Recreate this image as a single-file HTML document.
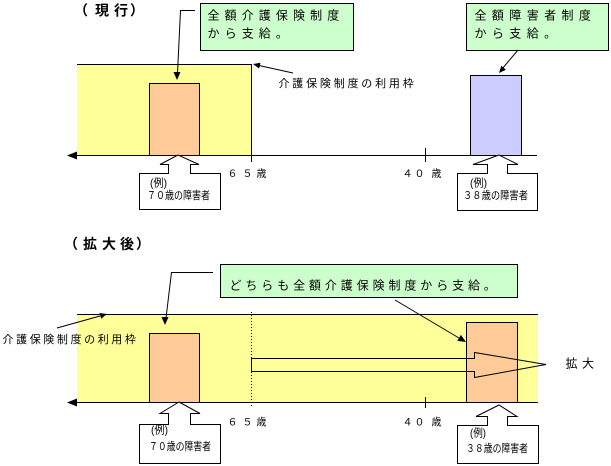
<!DOCTYPE html>
<html><head><meta charset="utf-8"><style>
html,body{margin:0;padding:0;background:#fff;}
svg{display:block;}
text{font-family:"Liberation Sans","Noto Sans CJK JP",sans-serif;fill:#000;}
</style></head><body>
<svg width="611" height="466" viewBox="0 0 611 466" xmlns="http://www.w3.org/2000/svg">
<!-- ===== TOP SECTION ===== -->
<text x="74 95 114 130" y="15.5" font-size="14" font-weight="bold">（現行）</text>

<rect x="77" y="64" width="175" height="91" fill="#ffff99"/>
<g stroke="#000" stroke-width="1" fill="none" shape-rendering="crispEdges">
  <line x1="77" y1="64.5" x2="252" y2="64.5"/>
  <line x1="251.5" y1="64" x2="251.5" y2="162"/>
  <line x1="72" y1="155.5" x2="537" y2="155.5"/>
  <line x1="425.5" y1="148" x2="425.5" y2="162"/>
</g>
<polygon points="67,155.5 77,151.5 77,159.5" fill="#000"/>

<rect x="149.5" y="83.5" width="50" height="72" fill="#ffcc99" stroke="#000" shape-rendering="crispEdges"/>
<rect x="470.5" y="75.5" width="51" height="80" fill="#ccccff" stroke="#000" shape-rendering="crispEdges"/>

<!-- green boxes -->
<rect x="200.5" y="3.5" width="153" height="47" fill="#ccffcc" stroke="#000" shape-rendering="crispEdges"/>
<text x="207.5" y="19.5" font-size="12" letter-spacing="5.1">全額介護保険制度</text>
<text x="207.5" y="37.5" font-size="12" letter-spacing="5.1">から支給。</text>

<rect x="466.5" y="3.5" width="142" height="47" fill="#ccffcc" stroke="#000" shape-rendering="crispEdges"/>
<text x="474.5" y="19.5" font-size="12" letter-spacing="5.4">全額障害者制度</text>
<text x="474.5" y="37.5" font-size="12" letter-spacing="5.4">から支給。</text>

<!-- connectors top -->
<polyline points="195,10.5 180.5,10.5 177.5,73" fill="none" stroke="#000" stroke-width="1"/>
<polygon points="177,80 173.5,72 180.5,72" fill="#000"/>

<line x1="518" y1="50" x2="502" y2="69" stroke="#000" stroke-width="1"/>
<polygon points="499,73 505.9,69.7 501.3,65.8" fill="#000"/>

<line x1="293" y1="73" x2="259" y2="65.5" stroke="#000" stroke-width="1"/>
<polygon points="253,64 260.5,62.7 259.1,68.5" fill="#000"/>
<text x="278.5" y="87" font-size="11" letter-spacing="2.8">介護保険制度の利用枠</text>

<text x="227.5 242.5 256.5" y="177" font-size="10">６５歳</text>
<text x="402.5 414.5 431.5" y="177" font-size="10">４０歳</text>

<!-- callouts top -->
<path d="M178,155 L160,164.5 L168.5,164.5 L168.5,173.5 L139.5,173.5 L139.5,209.5 L220.5,209.5 L220.5,173.5 L190.5,173.5 L190.5,164.5 L199,164.5 Z" fill="#fff" stroke="#000" stroke-width="1"/>
<text x="150" y="186.5" font-size="11" textLength="17" lengthAdjust="spacingAndGlyphs">(例)</text>
<text x="147" y="199" font-size="11" textLength="63" lengthAdjust="spacingAndGlyphs">７０歳の障害者</text>

<path d="M499,155 L473,164.5 L487.5,164.5 L487.5,173.5 L457.5,173.5 L457.5,210.5 L537.5,210.5 L537.5,173.5 L507.5,173.5 L507.5,164.5 L518,164.5 Z" fill="#fff" stroke="#000" stroke-width="1"/>
<text x="470" y="186.5" font-size="11" textLength="17" lengthAdjust="spacingAndGlyphs">(例)</text>
<text x="463" y="199" font-size="11" textLength="65" lengthAdjust="spacingAndGlyphs">３８歳の障害者</text>

<!-- ===== BOTTOM SECTION ===== -->
<text x="64 83 102 120 136" y="249" font-size="14" font-weight="bold">（拡大後）</text>

<rect x="77" y="314" width="461" height="88" fill="#ffff99"/>
<g stroke="#000" stroke-width="1" fill="none" shape-rendering="crispEdges">
  <line x1="77" y1="314.5" x2="538" y2="314.5"/>
  <line x1="72" y1="402.5" x2="538" y2="402.5"/>
  <line x1="425.5" y1="397" x2="425.5" y2="408"/>
</g>
<line x1="251.5" y1="312" x2="251.5" y2="408" stroke="#000" stroke-width="1" stroke-dasharray="1,2" shape-rendering="crispEdges"/>
<polygon points="67,402.5 77,398.5 77,406.5" fill="#000"/>

<rect x="149.5" y="333.5" width="50" height="69" fill="#ffcc99" stroke="#000" shape-rendering="crispEdges"/>
<rect x="466.5" y="322.5" width="51" height="80" fill="#ffcc99" stroke="#000" shape-rendering="crispEdges"/>

<path d="M251.5,358.5 L474.5,358.5 L474.5,352.5 L546,364.5 L474.5,377.5 L474.5,371.5 L251.5,371.5 Z" fill="none" stroke="#000" stroke-width="1"/>

<text x="565.5 582" y="367.5" font-size="12">拡大</text>

<!-- green box bottom -->
<rect x="220.5" y="264.5" width="297" height="33" fill="#ccffcc" stroke="#000" shape-rendering="crispEdges"/>
<text x="229.5" y="289.5" font-size="12" letter-spacing="3.9">どちらも全額介護保険制度から支給。</text>

<!-- connectors bottom -->
<polyline points="213,272.5 171.5,272.5 166,318" fill="none" stroke="#000" stroke-width="1"/>
<polygon points="165,325 161.5,317 168.5,317" fill="#000"/>

<line x1="395" y1="300" x2="459" y2="338" stroke="#000" stroke-width="1"/>
<polygon points="466,342 457.3,340.9 460.9,334.9" fill="#000"/>

<line x1="57" y1="328" x2="100" y2="316" stroke="#000" stroke-width="1"/>
<polygon points="107,314 101.1,318.8 99.5,313" fill="#000"/>
<text x="2.5" y="343" font-size="11" letter-spacing="2.6">介護保険制度の利用枠</text>

<text x="227.5 242.5 256.5" y="425.5" font-size="10">６５歳</text>
<text x="402.5 414.5 431.5" y="425.5" font-size="10">４０歳</text>

<!-- callouts bottom -->
<path d="M179,402 L160,413.5 L168.5,413.5 L168.5,424.5 L139.5,424.5 L139.5,463.5 L220.5,463.5 L220.5,424.5 L190.5,424.5 L190.5,413.5 L200,413.5 Z" fill="#fff" stroke="#000" stroke-width="1"/>
<text x="151" y="433.5" font-size="11" textLength="17" lengthAdjust="spacingAndGlyphs">(例)</text>
<text x="149" y="450" font-size="11" textLength="62" lengthAdjust="spacingAndGlyphs">７０歳の障害者</text>

<path d="M499,405 L476,416.5 L487.5,416.5 L487.5,425.5 L457.5,425.5 L457.5,463.5 L538.5,463.5 L538.5,425.5 L507.5,425.5 L507.5,416.5 L517,416.5 Z" fill="#fff" stroke="#000" stroke-width="1"/>
<text x="470" y="436.5" font-size="11" textLength="16" lengthAdjust="spacingAndGlyphs">(例)</text>
<text x="466" y="452" font-size="11" textLength="62" lengthAdjust="spacingAndGlyphs">３８歳の障害者</text>
</svg>
</body></html>
